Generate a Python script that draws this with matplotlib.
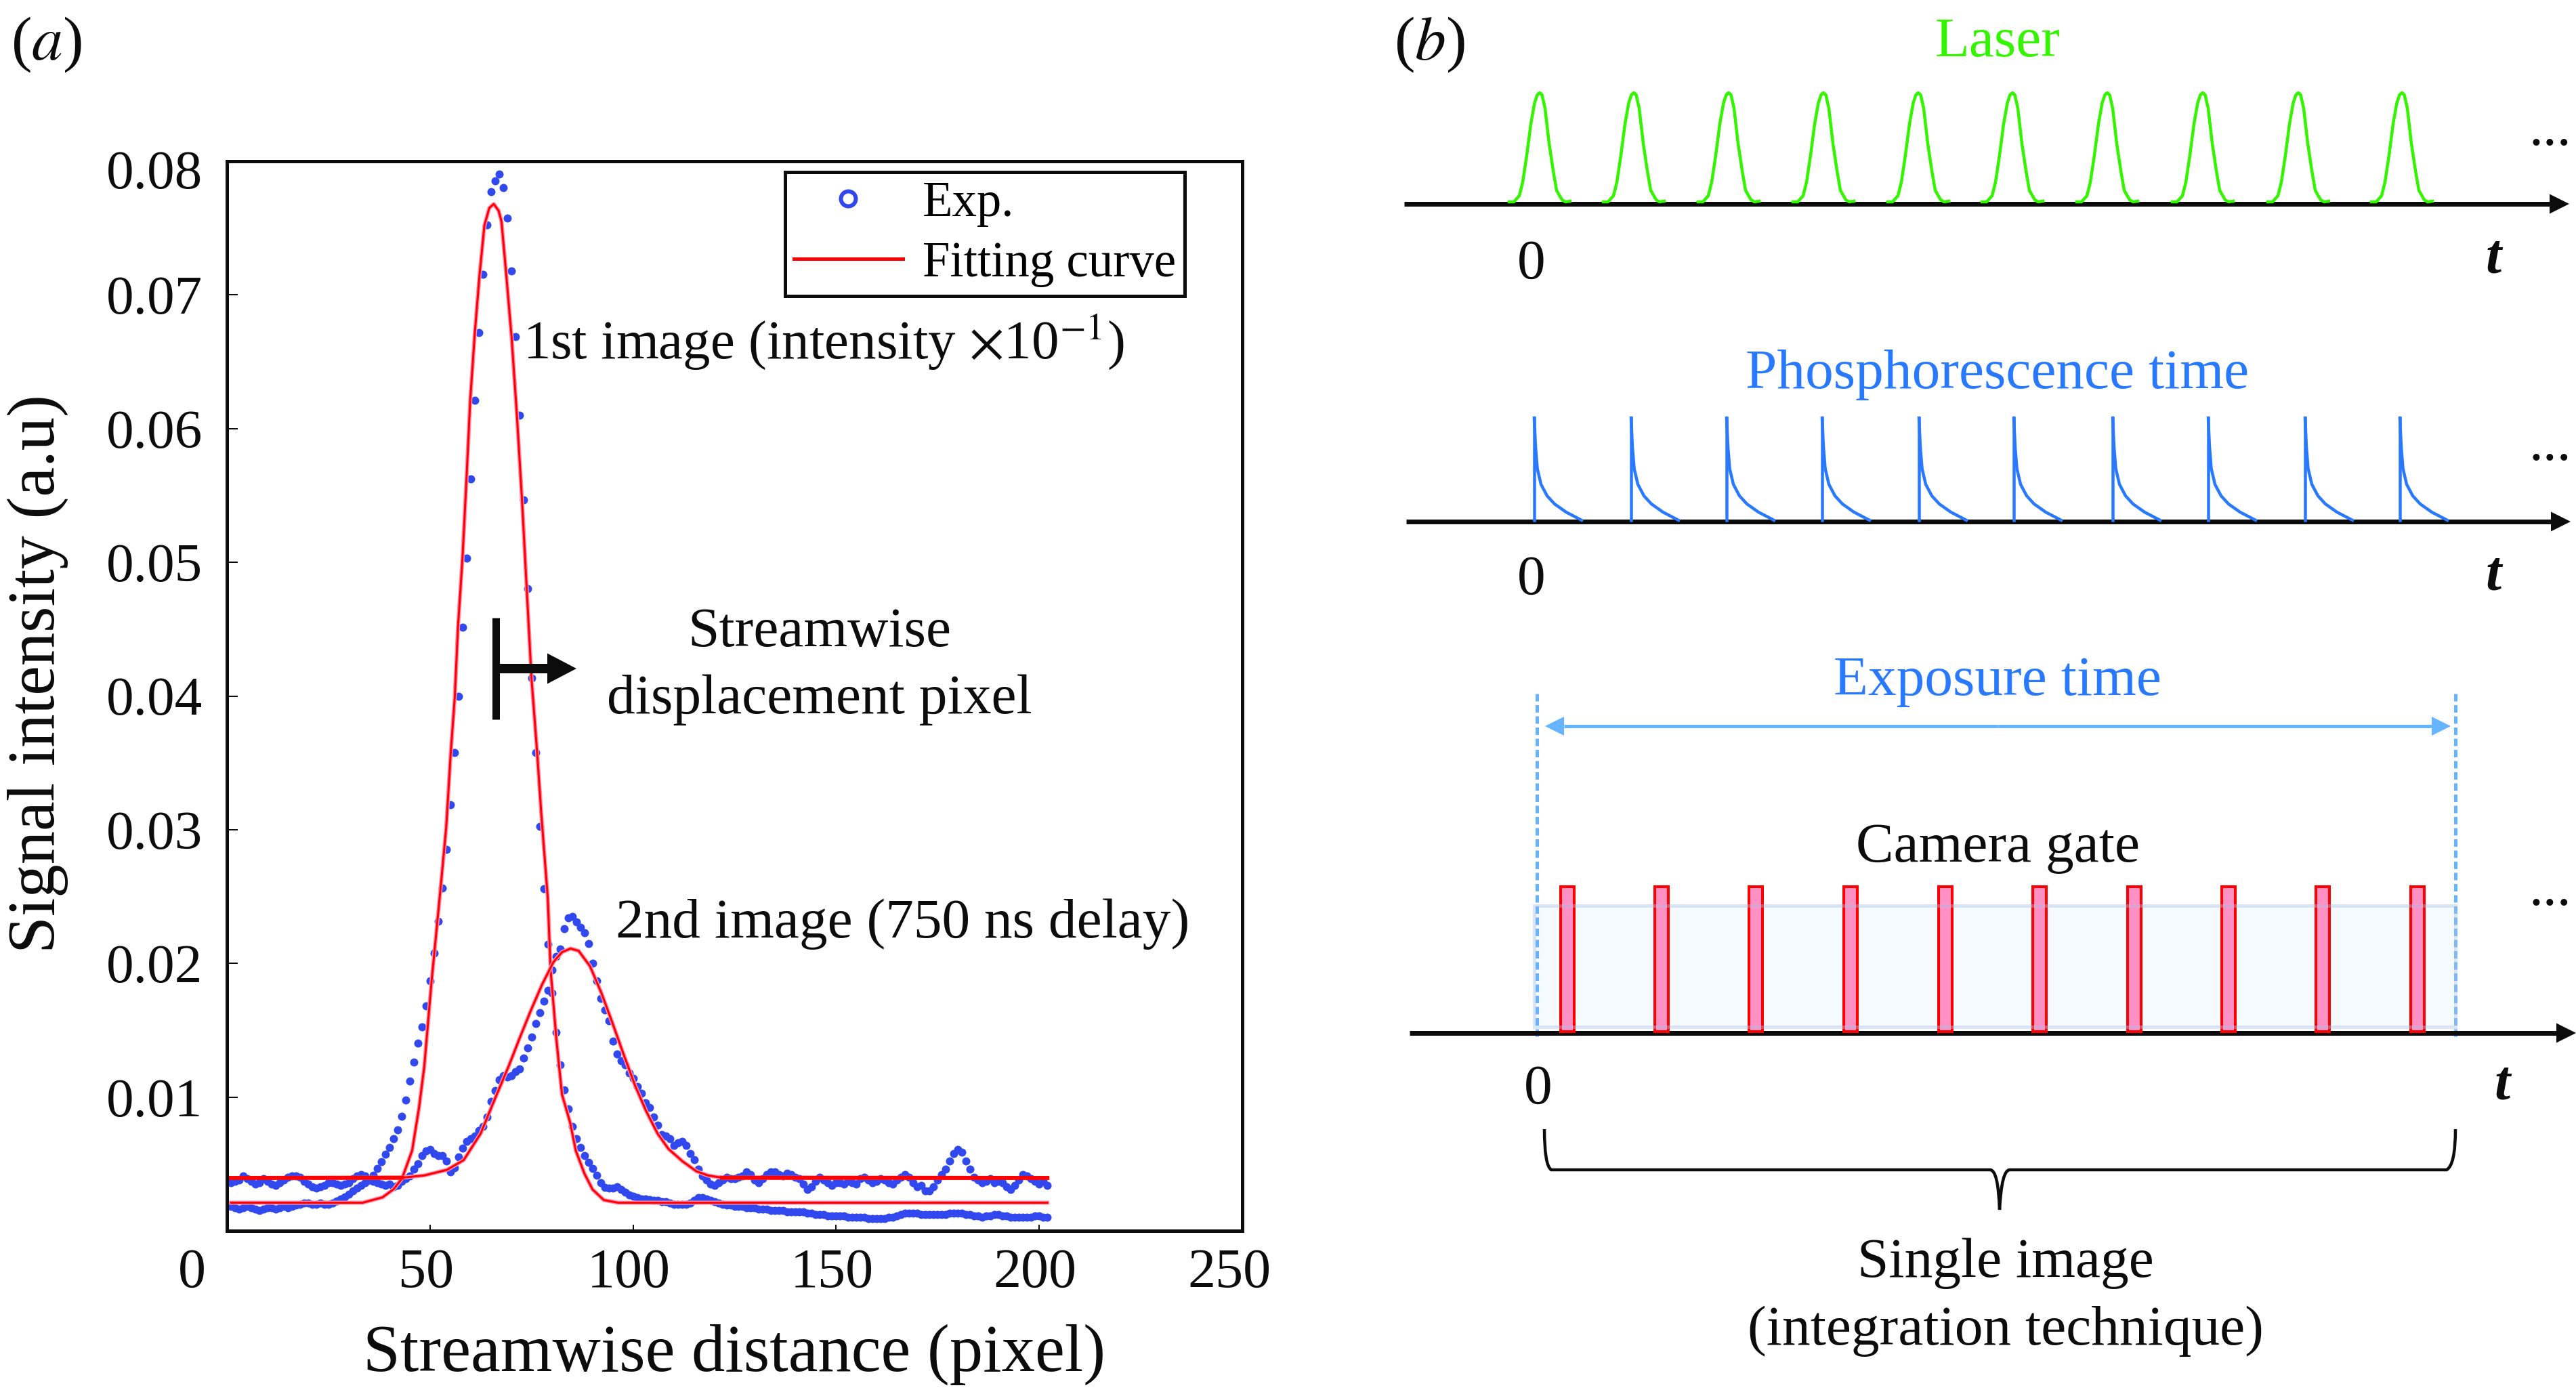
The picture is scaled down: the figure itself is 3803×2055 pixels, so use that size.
"""
Streamwise intensity profiles (a) and laser/phosphorescence/camera timing (b).
"""

import numpy
from matplotlib import pyplot
from matplotlib.lines import Line2D
from matplotlib.patches import PathPatch, Rectangle
from matplotlib.path import Path
from matplotlib.transforms import ScaledTranslation

# Panel (a): measured profiles, one value per pixel from 1 to 202.
exp_first = [
    .0018, .0017, .0016, .0017, .0018, .0017, .0016, .0015, .0016, .0017,
    .0017, .0016, .0017, .0018, .0017, .0018, .0019, .0020, .0021, .0021,
    .0020, .0020, .0021, .0020, .0020, .0021, .00225, .0024, .00255, .00276,
    .00297, .00317, .00338, .0036, .00382, .00415, .00466, .00519, .00572, .00623,
    .00689, .00754, .00856, .00977, .01119, .01261, .01403, .01524, .01681, .01868,
    .02076, .02314, .02562, .0285, .03185, .03575, .03995, .04516, .05033, .05625,
    .06213, .06719, .07155, .07524, .0777, .07853, .07904, .07803, .07575, .0718,
    .06689, .06101, .05468, .04805, .04132, .03575, .03023, .02557, .02142, .0178,
    .01483, .0124, .01053, .00911, .0078, .00689, .00623, .00562, .00511, .00466,
    .00415, .0036, .00324, .00321, .0032, .0033, .0031, .0029, .0027, .0026,
    .0025, .0024, .0024, .00235, .0023, .0023, .0022, .0022, .0021, .0020,
    .0020, .0020, .0020, .0021, .0023, .0025, .0025, .0024, .0023, .0022,
    .0021, .0020, .0019, .0019, .0018, .0018, .0018, .0017, .0017, .0017,
    .0016, .0016, .0016, .0015, .0015, .0015, .0015, .0014, .0014, .0014,
    .0014, .0014, .0013, .0013, .0012, .0012, .0012, .0011, .0011, .0011,
    .0011, .0011, .0010, .0010, .0010, .0010, .0010, .0009, .0009, .0009,
    .0009, .0009, .0010, .0010, .0011, .0012, .0013, .0013, .0013, .0013,
    .0012, .0012, .0012, .0012, .0012, .0012, .0012, .0013, .0013, .0013,
    .0013, .0012, .0012, .0011, .0011, .0010, .0011, .0011, .0012, .0012,
    .0011, .0011, .0010, .0010, .0010, .0010, .0010, .0010, .0011, .0011, .0010, .0010,
]
exp_second = [
    .0036, .0037, .0038, .0041, .0039, .0037, .0035, .0036, .0039, .0037,
    .0035, .0034, .0036, .0038, .0040, .0041, .0041, .0040, .0037, .0035,
    .0033, .0032, .0033, .0034, .0036, .0036, .0035, .0034, .0035, .0036,
    .0039, .0041, .0042, .0041, .0038, .0037, .0036, .0035, .0034, .0035,
    .0033, .0034, .0037, .0039, .0041, .0046, .0050, .0056, .0060, .0061,
    .0058, .0056, .0056, .0052, .0044, .0047, .0055, .0062, .0067, .0069,
    .0071, .0075, .0078, .0085, .0097, .0105, .0113, .0116, .0115, .0116,
    .0119, .0121, .0129, .0137, .0145, .0155, .0163, .0172, .0180, .0195,
    .0205, .0211, .0226, .0234, .0235, .0231, .0227, .0223, .0215, .0200,
    .0187, .0174, .0165, .0157, .0142, .0132, .0127, .0124, .0118, .0114,
    .0108, .0103, .0096, .0092, .0085, .0079, .0072, .0071, .0069, .0064,
    .0066, .0067, .0064, .0058, .0053, .0046, .0041, .0038, .0035, .0034,
    .0036, .0038, .0040, .0039, .0039, .0040, .0041, .0044, .0042, .0038,
    .0036, .0039, .0042, .0044, .0044, .0042, .0041, .0043, .0042, .0040,
    .0039, .0035, .0031, .0033, .0037, .0040, .0038, .0036, .0034, .0036,
    .0036, .0035, .0037, .0036, .0035, .0039, .0040, .0038, .0036, .0037,
    .0039, .0038, .0036, .0035, .0038, .0040, .0042, .0040, .0036, .0033,
    .0034, .0030, .0030, .0033, .0038, .0042, .0046, .0052, .0058, .0061,
    .0059, .0052, .0046, .0040, .0038, .0036, .0037, .0039, .0036, .0037,
    .0036, .0033, .0031, .0034, .0038, .0042, .0041, .0039, .0037, .0035, .0037, .0034,
]
pixels = list(range(1, 203))

# Fitting curves.
fit1_x = [1, 33.4, 38.3, 41, 43.1, 45.6, 47.3, 48.6, 50.4, 52.6, 54, 55.1, 56.1, 56.9,
          58, 59, 59.9, 61.05, 62.2, 63.4, 64.6, 65.7, 66.9, 67.6, 68.7, 70.1, 71.4,
          72.65, 73.8, 75, 76.4, 77.4, 79, 79.7, 81.1, 82.5, 84.5, 85.9, 88, 90, 92.8,
          96.3, 202]
fit1_y = [.0021, .0021, .0025, .0031, .0039, .0060, .0092, .0123, .0187, .0256, .0302,
          .0357, .0399, .0452, .0503, .0563, .0621, .0672, .0715, .0752, .0765, .0768,
          .0763, .0755, .0718, .0668, .0610, .0547, .0481, .0413, .0357, .0312, .0249,
          .0195, .0144, .0102, .0081, .0060, .0043, .0031, .0023, .0021, .0021]
fit2_x = [1, 43.1, 48.6, 54.2, 58.3, 62.5, 65.9, 69.4, 72.1, 74.9, 77.6, 80.4, 82.5,
          84.6, 86.6, 89.4, 92.2, 95, 97.7, 100.5, 103.2, 106, 108.7, 112.2, 115.6,
          118.4, 121.9, 202]
fit2_y = [.00395, .00397, .00414, .00456, .00529, .00729, .00981, .01233, .01443, .01653,
          .01842, .0201, .02084, .02111, .02094, .01979, .01779, .01548, .01317, .01086,
          .00897, .00729, .00613, .00519, .00445, .00414, .00397, .00395]

x_ticks = [0, 50, 100, 150, 200, 250]
y_ticks = [0.01, 0.02, 0.03, 0.04, 0.05, 0.06, 0.07, 0.08]

# Panel (b): event positions along each time axis, in picture pixels.
laser_peaks = [2273, 2412, 2552, 2692, 2832, 2971, 3111, 3252, 3393, 3546]
laser_dx = [-45, -38, -30, -25, -19, -13, -7.5, -3.5, 0, 3.5, 8, 14, 20, 25, 33, 38, 45]
laser_h = [1, 1, 10, 30, 70, 116, 147, 159, 162, 159, 139, 87, 47, 18, 4, 1, 2]
phos_starts = [2265, 2408, 2549, 2690, 2833, 2973, 3119, 3260, 3403, 3543]
phos_dx = [0, 2, 4.6, 10, 19, 30, 47, 70]
phos_h = [153, 110, 78, 55, 38, 26, 14, 2]
gate_lefts = [2302, 2441, 2580, 2720, 2860, 2999, 3139, 3278, 3417, 3557]

PX = 72 / 100  # one picture pixel in points
FS = 60
BLACK = '#0c0c0c'
GREEN = '#33f500'
BLUE = '#2979ff'
SKY = '#64b4ff'
DOTS = '#3048ee'

pyplot.rcParams['font.family'] = ['Liberation Serif', 'DejaVu Serif']
pyplot.rcParams['mathtext.fontset'] = 'stix'

fig = pyplot.figure(figsize=(38.03, 20.55), dpi=100)


def frac_x(px):
    return px / 3803


def frac_y(py):
    return 1 - py / 2055


ax = fig.add_axes([frac_x(335), frac_y(1817), frac_x(1499), 1579 / 2055])
ax.plot(pixels, exp_first, ls='none', marker='o', ms=12 * PX, mew=0, color=DOTS)
ax.plot(pixels, exp_second, ls='none', marker='o', ms=12 * PX, mew=0, color=DOTS)
for fx, fy in ((fit1_x, fit1_y), (fit2_x, fit2_y)):
    ax.plot(fx, fy, color='#ff8fb0', lw=6 * PX, solid_joinstyle='round')
    ax.plot(fx, fy, color='#ff0000', lw=3 * PX, solid_joinstyle='round')
ax.plot(fit2_x[:2], fit2_y[:2], color='#ff0000', lw=6 * PX)
ax.plot(fit2_x[-2:], fit2_y[-2:], color='#ff0000', lw=6 * PX)
ax.set_xlim(0, 250)
ax.set_ylim(0, 0.08)
ax.set_xticks(x_ticks)
ax.set_xticklabels([str(v) for v in x_ticks])
ax.set_yticks(y_ticks)
ax.set_yticklabels(['%.2f' % v for v in y_ticks])
ax.tick_params(axis='x', direction='in', length=9 * PX, width=2 * PX, pad=18,
               labelsize=59, color=BLACK, labelcolor=BLACK)
ax.tick_params(axis='y', direction='in', length=16 * PX, width=2 * PX, pad=26,
               labelsize=58.5, color=BLACK, labelcolor=BLACK)
for spine in ax.spines.values():
    spine.set_linewidth(5 * PX)
    spine.set_color(BLACK)
ax.set_xlabel('Streamwise distance (pixel)', fontsize=71, color=BLACK, va='center')
ax.xaxis.set_label_coords(0.5, -0.116)
ax.set_ylabel('Signal intensity (a.u)', fontsize=71, color=BLACK, va='center')
ax.yaxis.set_label_coords(-0.186, 0.521)

# the outer tick labels sit off their ticks in the original
shift = {'0': -52, '250': -19, '50': -6, '100': -6, '150': -6, '200': -6}
for label_ in ax.get_xticklabels():
    label_.set_transform(label_.get_transform()
                         + ScaledTranslation(shift[label_.get_text()] / 100, 0, fig.dpi_scale_trans))
top_label = ax.get_yticklabels()[-1]
top_label.set_transform(top_label.get_transform()
                        + ScaledTranslation(0, -12 / 100, fig.dpi_scale_trans))

handles = [Line2D([], [], ls='none', marker='o', ms=22 * PX, mew=6 * PX, mfc='white', mec=DOTS),
           Line2D([], [], color='#ff0000', lw=5 * PX)]
leg = ax.legend(handles, ['Exp.', 'Fitting curve'], loc='upper left',
                bbox_to_anchor=((1159 - 335) / 1499, (1817 - 254) / 1579),
                fontsize=52.5, fancybox=False, framealpha=1, edgecolor=BLACK,
                borderpad=0.18, handlelength=2.2, handletextpad=0.4, labelspacing=0.3,
                borderaxespad=0)
leg.get_frame().set_linewidth(5 * PX)

# Full-figure overlay in picture pixels for the annotations and panel (b).
over = fig.add_axes([0, 0, 1, 1], zorder=5)
over.set_xlim(0, 3803)
over.set_ylim(2055, 0)
over.axis('off')


def label(x, y, text, color=BLACK, size=FS, **kw):
    over.text(x, y + 9, text, color=color, fontsize=size, ha=kw.pop('ha', 'center'),
              va='center', **kw)


def arrow(x0, x1, y, color, lw, head_len, head_w):
    sign = 1 if x1 > x0 else -1
    over.plot([x0, x1 - sign * head_len], [y, y], color=color, lw=lw * PX,
              solid_capstyle='butt')
    over.fill([x1 - sign * head_len, x1, x1 - sign * head_len],
              [y - head_w / 2, y, y + head_w / 2], color=color, lw=0)


label(68, 57, r'($\mathit{a}$)', size=FS * 1.1)
label(2110, 57, r'($\mathit{b}$)', size=FS * 1.1)
label(772, 496, r'1st image (intensity $\times$10$^{-1}$)', ha='left', size=FS * 0.97)
label(909, 1355, '2nd image (750 ns delay)', ha='left')
label(1210, 925, 'Streamwise')
label(1210, 1024, 'displacement pixel')

# displacement marker
over.plot([732, 732], [912, 1062], color=BLACK, lw=11 * PX, solid_capstyle='butt')
arrow(738, 851, 987, BLACK, 14, 43, 45)

# laser row
label(2949, 54, 'Laser', color=GREEN)
arrow(2073, 3793, 301, BLACK, 7, 29, 29)
for peak in laser_peaks:
    over.plot(peak + numpy.array(laser_dx), 299 - numpy.array(laser_h), color=GREEN, lw=4.5 * PX)
label(2261, 382, '0')
label(3681, 374, 't', style='italic', weight='bold')
label(3765, 185, '...')

# phosphorescence row
label(2949, 544, 'Phosphorescence time', color=BLUE)
arrow(2076, 3795, 770, BLACK, 7, 29, 29)
for start in phos_starts:
    over.plot([start, start], [768, 617], color=BLUE, lw=4.5 * PX)
    over.plot(start + numpy.array(phos_dx), 770 - numpy.array(phos_h), color=BLUE, lw=4.5 * PX)
label(2261, 848, '0')
label(3681, 842, 't', style='italic', weight='bold')
label(3765, 650, '...')

# camera row
label(2949, 997, 'Exposure time', color=BLUE)
over.plot([2269, 2269], [1024, 1535], color=SKY, lw=5 * PX, ls=(0, (2.2, 1.1)))
over.plot([3625, 3625], [1024, 1535], color=SKY, lw=5 * PX, ls=(0, (2.2, 1.1)))
arrow(2950, 2281, 1072, SKY, 5, 28, 28)
arrow(2950, 3618, 1072, SKY, 5, 28, 28)
over.add_patch(Rectangle((2265, 1337), 1360, 179, fc='#f5fafe', ec='none', zorder=1))
arrow(2081, 3803, 1525, BLACK, 7, 29, 29)
for left in gate_lefts:
    over.add_patch(Rectangle((left + 2, 1309), 20, 214, fc='#ff90c4', ec='#ff0000',
                             lw=4 * PX, zorder=2))
over.add_patch(Rectangle((2265, 1337), 1360, 179, fill=False, ec='#a8c0e8', alpha=0.4,
                         lw=5 * PX, zorder=3))
label(2949, 1243, 'Camera gate')
label(2271, 1600, '0')
label(3694, 1594, 't', style='italic', weight='bold')
label(3765, 1307, '...')

# brace under the camera row
brace = Path([(2280, 1667), (2280, 1720), (2290, 1727), (2938, 1727), (2950, 1727),
              (2952, 1786), (2955, 1727), (2967, 1727), (3612, 1727), (3625, 1720),
              (3625, 1667)],
             [Path.MOVETO, Path.CURVE3, Path.CURVE3, Path.LINETO, Path.CURVE3, Path.CURVE3,
              Path.CURVE3, Path.CURVE3, Path.LINETO, Path.CURVE3, Path.CURVE3])
over.add_patch(PathPatch(brace, fill=False, ec=BLACK, lw=4.5 * PX))
label(2961, 1856, 'Single image')
label(2961, 1956, '(integration technique)')

fig.savefig('out.png', dpi=100)
